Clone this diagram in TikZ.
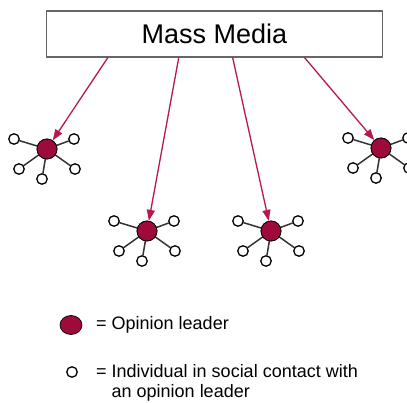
\documentclass[tikz,border=0pt]{standalone}
\usepackage{fontspec}
\setmainfont{Liberation Sans}
\usetikzlibrary{arrows.meta, shapes.geometric}
\definecolor{leaderred}{HTML}{9E0B3B}
\definecolor{arrowred}{HTML}{B8184C}
\tikzset{
  leader/.style={circle, draw=black, line width=0.7pt, fill=leaderred, minimum size=20pt, inner sep=0pt},
  leaf/.style={circle, draw=black, line width=1.3pt, fill=white, minimum size=10.5pt, inner sep=0pt},
  spoke/.style={draw=black!80, line width=1.5pt},
  feed/.style={draw=arrowred, line width=1.3pt, -{Triangle[length=11pt, width=8pt]}},
  keytext/.style={anchor=west, align=left, inner sep=0pt, font=\fontsize{18}{20}\selectfont}
}
\begin{document}
\begin{tikzpicture}[x=1pt, y=-1pt, line cap=round, line join=round]
  \useasboundingbox (0,0) rectangle (407,403);
  % Source box
  \node [draw=black!60, line width=1.6pt, minimum width=336pt, minimum height=46pt, inner sep=0pt, font=\fontsize{27}{30}\selectfont] (media) at (214.5,34) {Mass Media};
  % Opinion leaders with their contacts
  \foreach \cx/\cy [count=\x] in {47/149, 147/231, 271/231, 381/148} {
    \node [leader] (leader-\x) at (\cx,\cy) {};
    \foreach \dx/\dy [count=\y] in {-33/-10, 27/-10, 28/20, -5/30, -28/20} {
      \node [leaf] (leaf-\x-\y) at (\cx+\dx,\cy+\dy) {};
      \draw [spoke] (leader-\x) -- (leaf-\x-\y);
    }
  }
  \foreach \x in {1, ..., 4}
    \node [leader] at (leader-\x) {};
  % Arrows from the media
  \foreach \s [count=\x] in {62, 133, 187, 259}
    \coordinate (out-\x) at ([xshift=\s pt]media.south west);
  \foreach \x in {1, ..., 4}
    \draw [feed] (out-\x) -- (leader-\x);
  % Key
  \node [leader, ellipse, minimum width=22pt, minimum height=19pt] (key-leader) at (71,325) {};
  \node [keytext] (key-leader-text) at (96,325) {= Opinion leader};
  \node [leaf] (key-leaf) at (72,372) {};
  \node [keytext, anchor=north west] (key-leaf-text) at (96,364) {= Individual in social contact with\\\hphantom{= }an opinion leader};
\end{tikzpicture}
\end{document}
